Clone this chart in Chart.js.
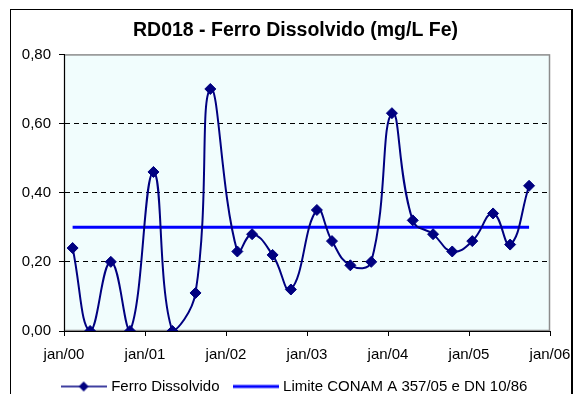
<!DOCTYPE html>
<html lang="pt-BR">
<head>
<meta charset="utf-8">
<title>RD018 - Ferro Dissolvido</title>
<script src="https://cdn.jsdelivr.net/npm/chart.js@4.4.1/dist/chart.umd.min.js"></script>
<style>
  html, body { margin: 0; padding: 0; background: #fff; }
  #grafico { display: block; }
</style>
</head>
<body>
<canvas id="grafico" width="574" height="394"></canvas>
<script>
// Datas das coletas e valores medidos (mg/L Fe)
const datas = [
  '2000-02-09', '2000-04-27', '2000-07-30', '2000-10-25',
  '2001-02-08', '2001-05-03', '2001-08-16', '2001-10-22',
  '2002-02-20', '2002-04-27', '2002-07-29', '2002-10-20',
  '2003-02-14', '2003-04-22', '2003-07-14', '2003-10-17',
  '2004-01-19', '2004-04-21', '2004-07-22', '2004-10-17',
  '2005-01-16', '2005-04-18', '2005-07-04', '2005-09-28'
];
const ferro = [
  0.24, 0.00, 0.20, 0.00,
  0.46, 0.00, 0.11, 0.70,
  0.23, 0.28, 0.22, 0.12,
  0.35, 0.26, 0.19, 0.20,
  0.63, 0.32, 0.28, 0.23,
  0.26, 0.34, 0.25, 0.42
];
const limite = 0.30;
const rotulosX = ['jan/00', 'jan/01', 'jan/02', 'jan/03', 'jan/04', 'jan/05', 'jan/06'];

// meses (fracionários) contados a partir de jan/2000
function mesesDesde2000(s) {
  const [a, m, d] = s.split('-').map(Number);
  const dias = new Date(a, m, 0).getDate();
  return (a - 2000) * 12 + (m - 1) + (d - 1) / dias;
}

const xs = datas.map(mesesDesde2000);
const pontosFerro = xs.map((x, i) => ({ x, y: ferro[i] }));
const pontosLimite = [
  { x: xs[0], y: limite },
  { x: xs[xs.length - 1], y: limite }
];

// Ícones da legenda (linha + marcador)
function iconeLegenda(cor, espessura, losango) {
  const c = document.createElement('canvas');
  c.width = 46; c.height = 12;
  const g = c.getContext('2d');
  g.strokeStyle = cor;
  g.lineWidth = espessura;
  g.beginPath();
  g.moveTo(0, 6); g.lineTo(46, 6);
  g.stroke();
  if (losango) {
    g.fillStyle = cor;
    g.beginPath();
    g.moveTo(23, 1); g.lineTo(28, 6); g.lineTo(23, 11); g.lineTo(18, 6);
    g.closePath();
    g.fill();
  }
  return c;
}
const icones = [iconeLegenda('#000080', 1.5, true), iconeLegenda('#0000FF', 3, false)];

// Fundo, moldura externa e borda da área de plotagem
const moldura = {
  id: 'moldura',
  beforeDraw(chart) {
    const { ctx, chartArea: a } = chart;
    ctx.save();
    ctx.fillStyle = '#fff';
    ctx.fillRect(0, 0, chart.width, chart.height);
    ctx.strokeStyle = '#000';
    ctx.lineWidth = 1;
    ctx.strokeRect(10.5, 9.5, 561, 400);
    ctx.beginPath();
    ctx.moveTo(572.5, 9); ctx.lineTo(572.5, 394);
    ctx.stroke();
    ctx.fillStyle = '#F1FDFD';
    ctx.fillRect(a.left, a.top, a.right - a.left, a.bottom - a.top);
    ctx.strokeStyle = '#8C8C8C';
    ctx.lineWidth = 1.5;
    ctx.strokeRect(a.left + 0.5, a.top + 0.5, a.right - a.left - 1, a.bottom - a.top - 1);
    ctx.restore();
  }
};

Chart.defaults.font.family = '"Liberation Sans", Arial, sans-serif';
Chart.defaults.color = '#000';

new Chart(document.getElementById('grafico'), {
  type: 'line',
  data: {
    datasets: [
      {
        label: 'Ferro Dissolvido',
        data: pontosFerro,
        borderColor: '#000080',
        backgroundColor: '#000080',
        borderWidth: 2,
        tension: 0.45,
        pointStyle: 'rectRot',
        pointRadius: 5.5,
        pointBorderWidth: 1,
        fill: false
      },
      {
        label: 'Limite CONAM A 357/05 e DN 10/86',
        data: pontosLimite,
        borderColor: '#0000FF',
        backgroundColor: '#0000FF',
        borderWidth: 3,
        pointRadius: 0,
        fill: false
      }
    ]
  },
  options: {
    responsive: false,
    animation: false,
    events: [],
    layout: { padding: { left: 19, right: 2, top: 0, bottom: -10 } },
    scales: {
      x: {
        type: 'linear',
        min: 0,
        max: 72,
        afterFit(scale) {
          scale.height = 32;
          scale.paddingRight = 24;
        },
        ticks: {
          stepSize: 12,
          padding: 10,
          font: { size: 15 },
          maxRotation: 0,
          callback: v => rotulosX[v / 12]
        },
        grid: { drawOnChartArea: false, tickLength: 5, tickColor: '#000' },
        border: { color: '#000', width: 1 }
      },
      y: {
        min: 0,
        max: 0.8,
        afterFit(scale) { scale.width = 45; },
        ticks: {
          stepSize: 0.2,
          padding: 8,
          font: { size: 15 },
          callback: v => v.toFixed(2).replace('.', ',')
        },
        grid: {
          color: ctx => (ctx.tick && ctx.tick.value > 0.001 && ctx.tick.value < 0.79) ? '#000' : 'rgba(0,0,0,0)',
          tickLength: 5,
          tickColor: '#000',
          tickBorderDash: []
        },
        border: { color: '#000', width: 1, dash: [5, 4] }
      }
    },
    plugins: {
      title: {
        display: true,
        text: 'RD018 - Ferro Dissolvido (mg/L Fe)',
        font: { size: 19.5, weight: 'bold' },
        padding: { top: 19, bottom: 12 }
      },
      legend: {
        position: 'bottom',
        labels: {
          usePointStyle: true,
          pointStyleWidth: 40,
          padding: 16,
          font: { size: 15 },
          generateLabels(chart) {
            const itens = Chart.defaults.plugins.legend.labels.generateLabels(chart);
            itens.forEach(it => { it.pointStyle = icones[it.datasetIndex]; });
            return itens;
          }
        }
      },
      tooltip: { enabled: false }
    }
  },
  plugins: [moldura]
});
</script>
</body>
</html>
